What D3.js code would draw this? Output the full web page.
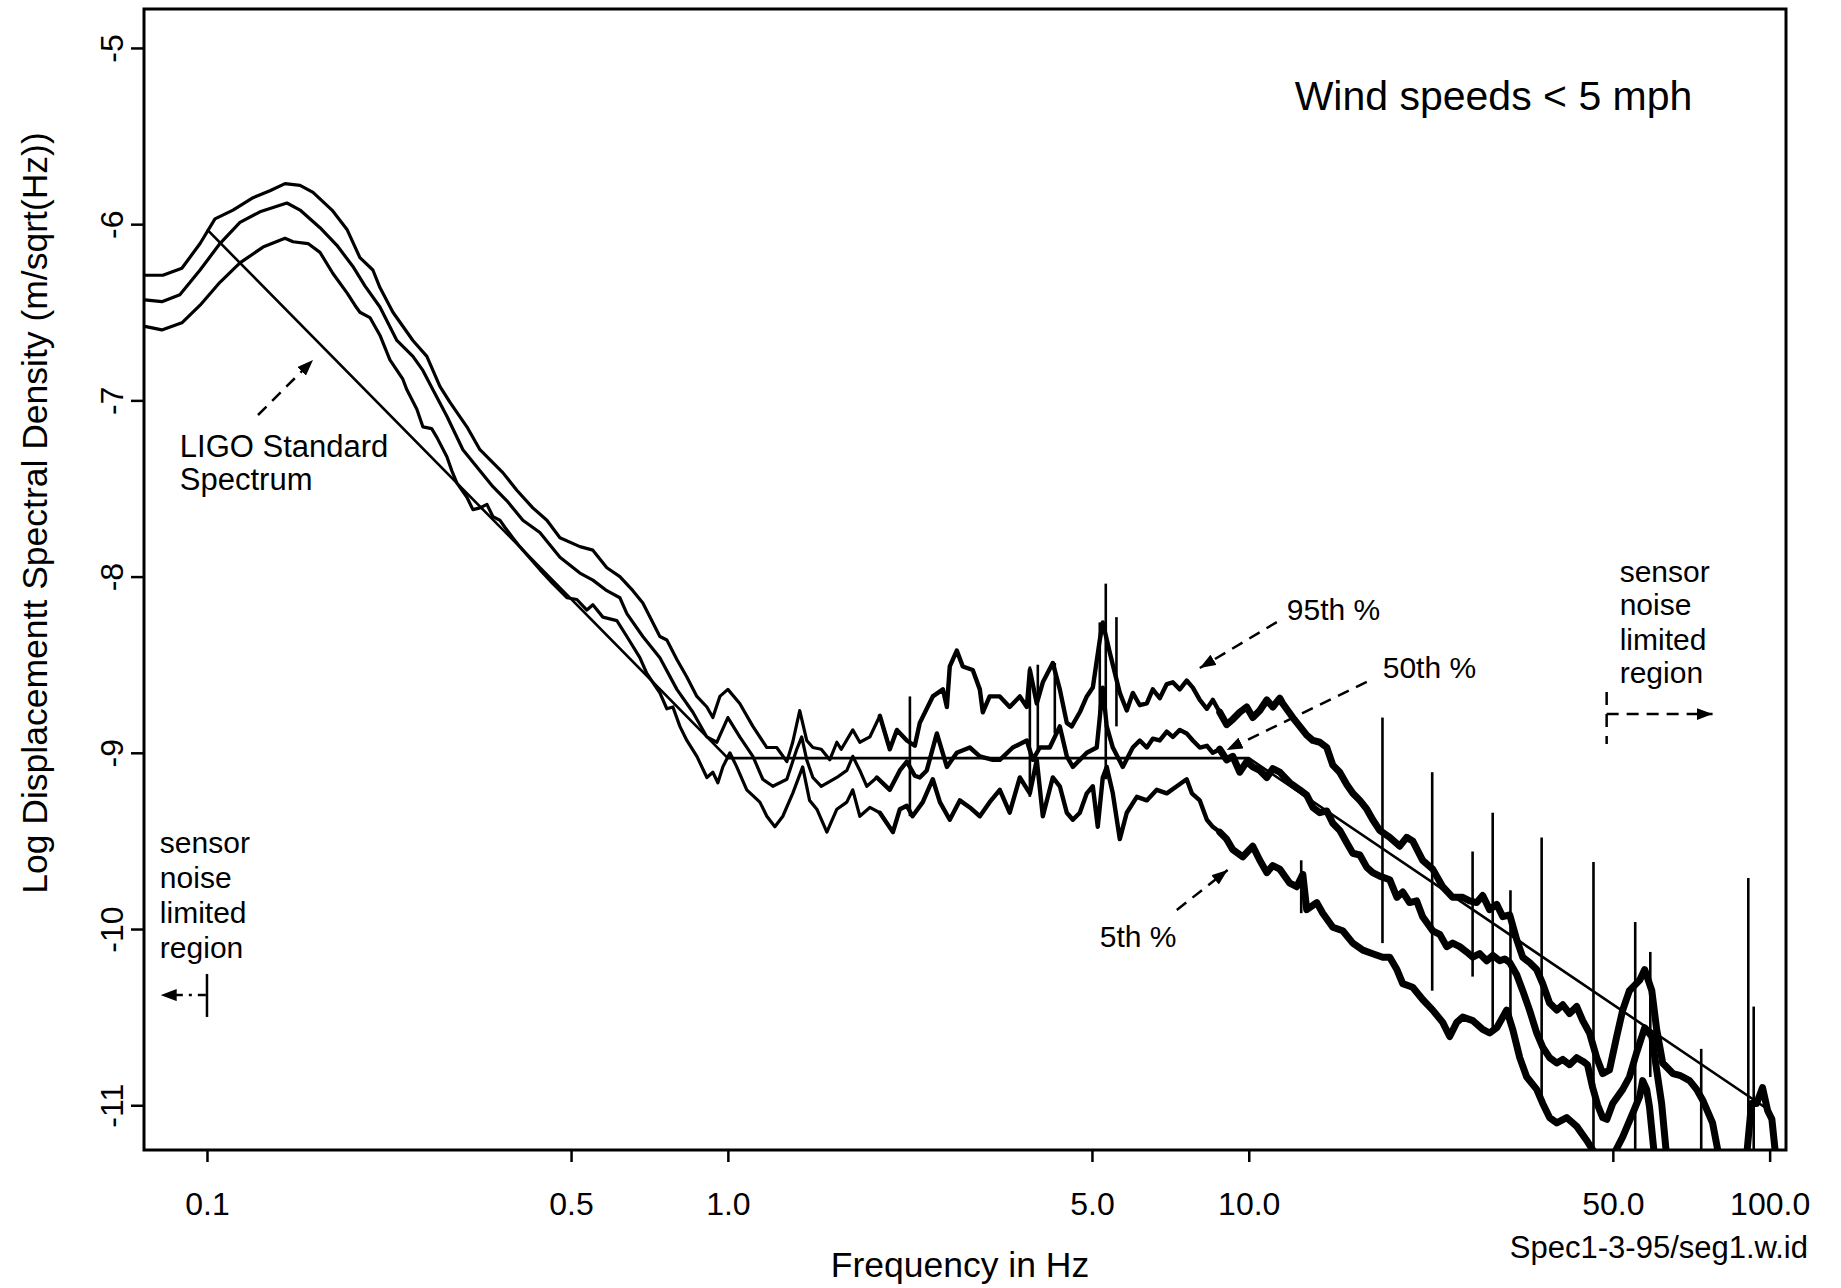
<!DOCTYPE html>
<html>
<head>
<meta charset="utf-8">
<script src="https://cdn.jsdelivr.net/npm/d3@7"></script>
<style>
body { margin: 0; background: #fff; }
text { font-family: "Liberation Sans", Arial, Helvetica, sans-serif; fill: #000; }
</style>
</head>
<body>
<div id="content"></div>
<script>
// ticks
var xTicks = [0.1, 0.5, 1, 5, 10, 50, 100];
var xTickLabels = ["0.1", "0.5", "1.0", "5.0", "10.0", "50.0", "100.0"];
var yTicks = [-5, -6, -7, -8, -9, -10, -11];
var yTickLabels = ["-5", "-6", "-7", "-8", "-9", "-10", "-11"];

// LIGO standard spectrum [Hz, log m/sqrt(Hz)]
var ligo = [[0.1, -6.03], [1, -9.03], [10, -9.03], [100, -11.03]];

// 95th percentile
var p95 = [[0.076,-6.29],[0.0823,-6.29],[0.0895,-6.25],[0.0970,-6.11],[0.1036,-5.97],[0.1122,-5.92],[0.1226,-5.85],[0.1321,-5.81],[0.1412,-5.77],[0.1509,-5.78],[0.1598,-5.82],[0.1738,-5.92],[0.1857,-6.03],[0.1966,-6.19],[0.2082,-6.26],[0.2148,-6.36],[0.2275,-6.50],[0.2485,-6.66],[0.2643,-6.75],[0.2800,-6.92],[0.2926,-7.01],[0.3155,-7.15],[0.3342,-7.28],[0.3698,-7.41],[0.3934,-7.51],[0.4222,-7.61],[0.4493,-7.68],[0.4760,-7.78],[0.5199,-7.83],[0.5506,-7.85],[0.5857,-7.95],[0.6204,-8.00],[0.6571,-8.08],[0.6867,-8.15],[0.7404,-8.34],[0.7636,-8.36],[0.7982,-8.47],[0.8342,-8.57],[0.8720,-8.68],[0.9114,-8.74],[0.9358,-8.80],[0.9652,-8.68],[1.000,-8.64],[1.054,-8.72],[1.117,-8.85],[1.188,-8.97],[1.241,-8.97],[1.298,-9.05],[1.332,-8.94],[1.374,-8.76],[1.417,-8.93],[1.456,-8.97],[1.511,-8.98],[1.569,-9.04],[1.619,-8.94],[1.651,-8.98],[1.737,-8.87],[1.792,-8.94],[1.873,-8.91],[1.958,-8.79],[2.046,-8.98],[2.111,-8.87],[2.206,-8.93],[2.285,-8.96],[2.336,-8.83],[2.474,-8.68],[2.587,-8.64],[2.633,-8.74],[2.667,-8.51],[2.751,-8.42],[2.825,-8.51],[2.952,-8.53],[3.046,-8.64],[3.086,-8.77],[3.181,-8.68],[3.327,-8.68],[3.476,-8.74],[3.635,-8.68],[3.749,-8.74],[3.800,-8.53],[3.918,-8.72],[4.024,-8.60],[4.205,-8.49],[4.338,-8.64],[4.474,-8.83],[4.573,-8.85],[4.739,-8.77],[4.887,-8.68],[5.019,-8.63],[5.176,-8.36],[5.245,-8.26],[5.408,-8.43],[5.655,-8.66],[5.832,-8.76],[5.990,-8.66],[6.178,-8.73],[6.372,-8.72],[6.543,-8.64],[6.748,-8.69],[6.96,-8.61],[7.148,-8.60],[7.372,-8.64],[7.60,-8.59],[7.81,-8.63],[8.054,-8.70],[8.31,-8.75],[8.53,-8.70],[8.797,-8.77],[9.07,-8.84],[9.32,-8.81],[9.61,-8.77],[9.91,-8.74],[10.18,-8.80],[10.50,-8.76],[10.83,-8.70],[11.12,-8.74],[11.47,-8.69],[11.62,-8.72],[12.15,-8.80],[12.53,-8.85],[12.92,-8.90],[13.28,-8.93],[13.69,-8.94],[14.12,-8.97],[14.50,-9.07],[14.95,-9.11],[15.42,-9.18],[15.84,-9.23],[16.34,-9.27],[16.85,-9.32],[17.30,-9.38],[17.84,-9.44],[18.65,-9.48],[19.49,-9.53],[20.1,-9.48],[20.64,-9.50],[21.57,-9.61],[22.55,-9.66],[23.57,-9.76],[24.63,-9.82],[25.75,-9.82],[26.55,-9.84],[27.39,-9.85],[28.13,-9.81],[29.0,-9.89],[29.93,-9.86],[30.74,-9.93],[31.7,-9.92],[32.69,-10.06],[33.57,-10.16],[34.6,-10.19],[35.71,-10.23],[36.67,-10.31],[37.8,-10.42],[39.02,-10.46],[40.07,-10.43],[41.3,-10.48],[42.62,-10.44],[43.77,-10.52],[45.1,-10.59],[46.56,-10.73],[47.81,-10.82],[49.26,-10.80],[50.86,-10.61],[52.23,-10.46],[53.8,-10.35],[56.30,-10.29],[57.56,-10.23],[59.4,-10.35],[60.69,-10.57],[62.32,-10.76],[65.2,-10.82],[67.19,-10.83],[70.2,-10.86],[72.41,-10.91],[74.36,-10.97],[77.7,-11.10],[80.17,-11.31],[83.8,-11.5],[89.1,-11.5],[90.3,-11.29],[92.3,-10.99],[94.4,-10.99],[96.9,-10.90],[99.1,-11.03],[101.0,-11.08],[102.9,-11.31],[104.5,-11.5]];

// 50th percentile
var p50 = [[0.076,-6.43],[0.0819,-6.44],[0.0887,-6.40],[0.0970,-6.26],[0.1059,-6.11],[0.1157,-5.99],[0.1264,-5.93],[0.1424,-5.88],[0.1509,-5.92],[0.1648,-6.02],[0.1776,-6.12],[0.1906,-6.24],[0.2010,-6.35],[0.2148,-6.47],[0.2315,-6.66],[0.2485,-6.75],[0.2597,-6.83],[0.2715,-6.94],[0.2888,-7.09],[0.3100,-7.28],[0.3342,-7.40],[0.3540,-7.49],[0.3765,-7.57],[0.4040,-7.68],[0.4356,-7.75],[0.4760,-7.89],[0.5199,-7.98],[0.5506,-8.02],[0.5857,-8.08],[0.6204,-8.12],[0.6399,-8.21],[0.6867,-8.34],[0.7404,-8.46],[0.7982,-8.64],[0.8568,-8.77],[0.9114,-8.91],[0.9524,-8.94],[1.000,-8.80],[1.054,-8.91],[1.117,-9.02],[1.167,-9.15],[1.220,-9.19],[1.298,-9.15],[1.356,-8.98],[1.386,-8.91],[1.417,-9.04],[1.456,-9.14],[1.511,-9.19],[1.619,-9.14],[1.692,-9.10],[1.737,-9.02],[1.792,-9.10],[1.848,-9.19],[1.932,-9.14],[2.046,-9.21],[2.139,-9.10],[2.206,-9.05],[2.285,-9.13],[2.336,-9.14],[2.409,-9.10],[2.519,-8.89],[2.633,-9.08],[2.751,-9.00],[2.914,-8.97],[3.046,-9.02],[3.226,-9.04],[3.327,-9.04],[3.524,-8.97],[3.749,-8.93],[3.850,-9.04],[3.971,-8.97],[4.149,-8.97],[4.338,-8.85],[4.474,-9.02],[4.595,-9.08],[4.739,-9.04],[4.887,-9.00],[5.107,-8.97],[5.176,-8.80],[5.245,-8.63],[5.338,-8.85],[5.483,-8.97],[5.730,-9.08],[5.990,-8.97],[6.178,-8.93],[6.372,-8.97],[6.543,-8.92],[6.748,-8.93],[6.96,-8.88],[7.148,-8.91],[7.372,-8.87],[7.60,-8.89],[7.81,-8.93],[8.054,-8.97],[8.31,-8.96],[8.53,-9.00],[8.797,-8.98],[9.07,-9.04],[9.32,-9.02],[9.61,-9.11],[9.91,-9.05],[10.18,-9.08],[10.50,-9.10],[10.83,-9.14],[11.12,-9.09],[11.47,-9.11],[11.99,-9.17],[12.53,-9.21],[12.92,-9.24],[13.28,-9.31],[13.69,-9.34],[14.12,-9.33],[14.50,-9.40],[14.95,-9.44],[15.42,-9.51],[15.84,-9.57],[16.34,-9.58],[16.85,-9.65],[17.30,-9.68],[17.84,-9.70],[18.65,-9.72],[19.25,-9.82],[19.75,-9.79],[20.36,-9.85],[21.0,-9.84],[21.57,-9.93],[22.55,-10.01],[23.26,-10.03],[23.99,-10.10],[24.63,-10.08],[25.41,-10.10],[26.2,-10.13],[26.92,-10.16],[27.76,-10.14],[28.63,-10.18],[29.43,-10.15],[30.33,-10.18],[31.0,-10.17],[31.7,-10.19],[32.69,-10.26],[33.57,-10.35],[34.6,-10.46],[35.71,-10.59],[36.67,-10.67],[37.8,-10.73],[39.02,-10.76],[40.07,-10.74],[41.3,-10.77],[42.62,-10.73],[43.77,-10.75],[44.7,-10.77],[45.74,-10.90],[46.76,-11.00],[47.81,-11.07],[48.7,-11.08],[49.97,-10.99],[52.23,-10.91],[53.8,-10.84],[55.56,-10.70],[57.56,-10.56],[59.4,-10.61],[60.69,-10.80],[62.04,-10.99],[63.42,-11.29],[65.6,-11.5]];

// 5th percentile
var p5 = [[0.076,-6.58],[0.0819,-6.60],[0.0895,-6.56],[0.0970,-6.46],[0.1059,-6.33],[0.1157,-6.22],[0.1281,-6.13],[0.1412,-6.08],[0.1463,-6.10],[0.1563,-6.11],[0.1648,-6.16],[0.1745,-6.28],[0.1857,-6.39],[0.1923,-6.46],[0.1966,-6.50],[0.2055,-6.53],[0.2148,-6.63],[0.2245,-6.77],[0.2377,-6.88],[0.2420,-6.94],[0.2529,-7.05],[0.2597,-7.15],[0.2700,-7.16],[0.2763,-7.21],[0.2888,-7.32],[0.2952,-7.40],[0.3019,-7.47],[0.3155,-7.55],[0.3240,-7.62],[0.3342,-7.61],[0.3447,-7.59],[0.3540,-7.66],[0.3650,-7.68],[0.3731,-7.72],[0.3864,-7.78],[0.3987,-7.83],[0.4356,-7.96],[0.4614,-8.04],[0.4909,-8.12],[0.5130,-8.13],[0.5362,-8.19],[0.5506,-8.16],[0.5755,-8.23],[0.6122,-8.25],[0.6399,-8.34],[0.6777,-8.46],[0.6989,-8.55],[0.7404,-8.66],[0.7636,-8.75],[0.7843,-8.74],[0.8089,-8.85],[0.8342,-8.93],[0.8720,-9.02],[0.9114,-9.14],[0.9358,-9.11],[0.9567,-9.17],[0.9780,-9.08],[1.009,-9.00],[1.040,-9.08],[1.087,-9.21],[1.152,-9.28],[1.188,-9.36],[1.231,-9.42],[1.275,-9.36],[1.332,-9.23],[1.392,-9.08],[1.435,-9.27],[1.482,-9.32],[1.549,-9.45],[1.619,-9.32],[1.692,-9.28],[1.737,-9.21],[1.792,-9.36],[1.873,-9.31],[1.958,-9.34],[2.074,-9.45],[2.139,-9.32],[2.206,-9.30],[2.262,-9.36],[2.367,-9.28],[2.474,-9.15],[2.553,-9.28],[2.667,-9.38],[2.788,-9.27],[2.914,-9.31],[3.046,-9.36],[3.181,-9.28],[3.327,-9.21],[3.476,-9.34],[3.635,-9.14],[3.800,-9.23],[3.918,-9.04],[4.024,-9.36],[4.205,-9.14],[4.338,-9.19],[4.474,-9.34],[4.595,-9.38],[4.739,-9.34],[4.887,-9.23],[5.019,-9.19],[5.130,-9.42],[5.245,-9.14],[5.338,-9.08],[5.483,-9.23],[5.655,-9.49],[5.832,-9.34],[6.097,-9.25],[6.372,-9.27],[6.659,-9.21],[6.96,-9.23],[7.275,-9.19],[7.60,-9.15],[7.776,-9.23],[8.054,-9.27],[8.31,-9.38],[8.53,-9.42],[8.797,-9.45],[9.07,-9.49],[9.32,-9.55],[9.74,-9.59],[10.18,-9.53],[10.50,-9.61],[10.83,-9.68],[11.12,-9.64],[11.47,-9.66],[11.99,-9.74],[12.36,-9.76],[12.70,-9.69],[12.92,-9.89],[13.51,-9.85],[13.87,-9.91],[14.50,-9.99],[15.15,-10.01],[15.84,-10.08],[16.56,-10.12],[17.30,-10.14],[18.08,-10.16],[18.65,-10.16],[19.25,-10.23],[19.75,-10.31],[20.64,-10.33],[21.57,-10.40],[22.55,-10.46],[23.57,-10.53],[24.31,-10.61],[25.08,-10.53],[25.75,-10.50],[26.92,-10.52],[28.13,-10.57],[29.0,-10.59],[29.93,-10.56],[31.28,-10.46],[32.12,-10.57],[33.13,-10.73],[34.17,-10.84],[35.71,-10.91],[36.67,-10.99],[37.8,-11.07],[39.02,-11.10],[40.78,-11.07],[42.62,-11.12],[44.55,-11.20],[46.56,-11.29],[48.3,-11.5],[49.26,-11.5],[49.97,-11.29],[52.23,-11.18],[54.86,-11.03],[56.30,-10.95],[57.05,-10.86],[58.06,-10.91],[58.8,-11.01],[60.1,-11.29],[61.5,-11.5]];

// narrow line spikes
var spikeFreq   = [2.236, 3.80, 3.936, 4.243, 5.176, 5.315, 5.572, 12.61, 18.06, 22.5, 26.9, 29.4, 31.8, 36.5, 45.9, 55.2, 59.0, 73.9, 91.0, 93.2];
var spikeTop    = [-8.68, -8.51, -8.50, -8.49, -8.26, -8.04, -8.23, -9.61, -8.80, -9.11, -9.56, -9.34, -9.78, -9.48, -9.62, -9.96, -10.13, -10.68, -9.71, -10.44];
var spikeBottom = [-9.36, -9.25, -8.98, -8.89, -8.81, -9.15, -8.85, -9.91, -10.08, -10.35, -10.27, -10.57, -10.50, -10.99, -11.4, -11.4, -10.84, -11.4, -11.4, -11.4];

var width = 1841, height = 1288;
var plotLeft = 144, plotRight = 1786, plotTop = 9, plotBottom = 1150;

var svg = d3.select("#content").append("svg")
              .attr("width", width)
              .attr("height", height);

var x = d3.scaleLog().domain([0.0757, 107.5]).range([plotLeft, plotRight]);
var y = d3.scaleLinear().domain([-11.254, -4.779]).range([plotBottom, plotTop]);

var defs = svg.append("defs");
defs.append("clipPath").attr("id", "plotClip")
    .append("rect")
      .attr("x", plotLeft).attr("y", plotTop)
      .attr("width", plotRight - plotLeft).attr("height", plotBottom - plotTop);
defs.append("marker")
      .attr("id", "arrowHead")
      .attr("viewBox", "0 0 16 12")
      .attr("refX", 16).attr("refY", 6)
      .attr("markerWidth", 16).attr("markerHeight", 12)
      .attr("markerUnits", "userSpaceOnUse")
      .attr("orient", "auto")
    .append("path")
      .attr("d", "M0,0L16,6L0,12z")
      .attr("fill", "#000");

var fontFam = '"Liberation Sans", Arial, Helvetica, sans-serif';

// x axis
var xAxis = d3.axisBottom(x)
                .tickValues(xTicks)
                .tickFormat(function(d, i) { return xTickLabels[i]; })
                .tickSize(12)
                .tickSizeOuter(0)
                .tickPadding(30);
var gx = svg.append("g")
              .attr("transform", "translate(0," + plotBottom + ")")
              .call(xAxis);
gx.attr("font-size", 32).attr("font-family", fontFam);
gx.select(".domain").remove();
gx.selectAll("line").attr("stroke", "#000").attr("stroke-width", 2.5);

// y axis, labels turned like the original
var yAxis = d3.axisLeft(y)
                .tickValues(yTicks)
                .tickFormat(function(d, i) { return yTickLabels[i]; })
                .tickSize(13)
                .tickSizeOuter(0);
var gy = svg.append("g")
              .attr("transform", "translate(" + plotLeft + ",0)")
              .call(yAxis);
gy.attr("font-size", 32).attr("font-family", fontFam);
gy.select(".domain").remove();
gy.selectAll("line").attr("stroke", "#000").attr("stroke-width", 2.5);
gy.selectAll("text")
    .attr("x", 0)
    .attr("dy", 0)
    .attr("text-anchor", "middle")
    .attr("transform", "translate(-21,0) rotate(-90)");

// frame
svg.append("rect")
    .attr("x", plotLeft).attr("y", plotTop)
    .attr("width", plotRight - plotLeft).attr("height", plotBottom - plotTop)
    .attr("fill", "none")
    .attr("stroke", "#000")
    .attr("stroke-width", 3);

// curves
var line = d3.line()
               .x(function(d) { return x(d[0]); })
               .y(function(d) { return y(d[1]); });
var plot = svg.append("g").attr("clip-path", "url(#plotClip)");

plot.append("path")
      .datum(ligo)
      .attr("d", line)
      .attr("fill", "none")
      .attr("stroke", "#000")
      .attr("stroke-width", 2.6);

// the scanned traces get visibly denser (thicker) with frequency
var bandEdges = [0, 2, 9, 1000];
var bandWidths = [3.2, 4.4, 7];

function piece(curve, lo, hi) {
  var a = curve.findIndex(function(d) { return d[0] >= lo; });
  var b = -1;
  curve.forEach(function(d, i) { if (d[0] <= hi) b = i; });
  if (a < 0 || b < 0) return [];
  return curve.slice(Math.max(0, a - 1), Math.min(curve.length, b + 2));
}

[p95, p50, p5].forEach(function(curve) {
  for (var k = 0; k < bandWidths.length; k++) {
    plot.append("path")
          .datum(piece(curve, bandEdges[k], bandEdges[k + 1]))
          .attr("d", line)
          .attr("fill", "none")
          .attr("stroke", "#000")
          .attr("stroke-width", bandWidths[k])
          .attr("stroke-linejoin", "round")
          .attr("stroke-linecap", "round");
  }
});

plot.selectAll(".spike")
      .data(spikeFreq)
      .enter().append("line")
      .attr("class", "spike")
      .attr("x1", function(d) { return x(d); })
      .attr("x2", function(d) { return x(d); })
      .attr("y1", function(d, i) { return y(spikeTop[i]); })
      .attr("y2", function(d, i) { return y(spikeBottom[i]); })
      .attr("stroke", "#000")
      .attr("stroke-width", 2.6);

// axis titles
svg.append("text")
    .attr("x", 960)
    .attr("y", 1277)
    .attr("text-anchor", "middle")
    .attr("font-size", 35.5)
    .text("Frequency in Hz");

svg.append("text")
    .attr("transform", "translate(47,513) rotate(-90)")
    .attr("text-anchor", "middle")
    .attr("font-size", 35.5)
    .text("Log Displacementt Spectral Density (m/sqrt(Hz))");

svg.append("text")
    .attr("x", 1808)
    .attr("y", 1258)
    .attr("text-anchor", "end")
    .attr("font-size", 31)
    .text("Spec1-3-95/seg1.w.id");

// annotations, placed in data coordinates
var notes = [
  {t: "Wind speeds < 5 mph", f: 12.25, v: -5.352, s: 41},
  {t: "LIGO Standard", f: 0.0887, v: -7.321, s: 31},
  {t: "Spectrum", f: 0.0887, v: -7.508, s: 31},
  {t: "sensor", f: 0.0812, v: -9.569, s: 30},
  {t: "noise", f: 0.0812, v: -9.767, s: 30},
  {t: "limited", f: 0.0812, v: -9.966, s: 30},
  {t: "region", f: 0.0812, v: -10.165, s: 30},
  {t: "sensor", f: 51.54, v: -8.031, s: 30},
  {t: "noise", f: 51.54, v: -8.218, s: 30},
  {t: "limited", f: 51.54, v: -8.417, s: 30},
  {t: "region", f: 51.54, v: -8.604, s: 30},
  {t: "95th %", f: 11.83, v: -8.246, s: 30},
  {t: "50th %", f: 18.08, v: -8.575, s: 30},
  {t: "5th %", f: 5.176, v: -10.102, s: 30}
];
svg.selectAll(".note")
    .data(notes)
    .enter().append("text")
    .attr("class", "note")
    .attr("x", function(d) { return x(d.f); })
    .attr("y", function(d) { return y(d.v); })
    .attr("font-size", function(d) { return d.s; })
    .text(function(d) { return d.t; });

var arrows = [
  {a: [0.1253, -7.083], b: [0.1598, -6.771], dash: "12,8", head: true},
  {a: [11.32, -8.258], b: [8.054, -8.519], dash: "12,8", head: true},
  {a: [16.85, -8.598], b: [9.07, -8.984], dash: "12,8", head: true},
  {a: [7.275, -9.892], b: [9.11, -9.665], dash: "12,8", head: true},
  {a: [48.65, -8.780], b: [77.7, -8.780], dash: "12,8", head: true},
  {a: [48.65, -8.655], b: [48.65, -8.950], dash: "13,9", head: false},
  {a: [0.0995, -10.375], b: [0.0815, -10.375], dash: "8,6,3,6", head: true},
  {a: [0.1, -10.255], b: [0.1, -10.499], dash: null, head: false}
];
svg.selectAll(".arrow")
    .data(arrows)
    .enter().append("line")
    .attr("class", "arrow")
    .attr("x1", function(d) { return x(d.a[0]); })
    .attr("y1", function(d) { return y(d.a[1]); })
    .attr("x2", function(d) { return x(d.b[0]); })
    .attr("y2", function(d) { return y(d.b[1]); })
    .attr("stroke", "#000")
    .attr("stroke-width", 2.5)
    .attr("stroke-dasharray", function(d) { return d.dash; })
    .attr("marker-end", function(d) { return d.head ? "url(#arrowHead)" : null; });
</script>
</body>
</html>
